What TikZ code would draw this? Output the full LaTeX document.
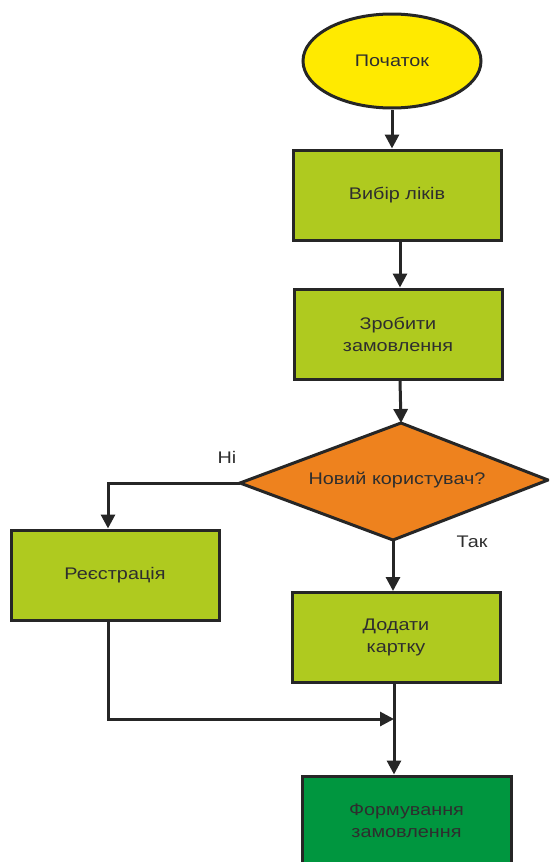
\documentclass[tikz,border=0pt]{standalone}
\usepackage{fontspec}
\setmainfont[FakeStretch=1.18]{Liberation Sans}
\usetikzlibrary{arrows.meta,shapes.geometric}

\definecolor{startyellow}{HTML}{FFEA00}
\definecolor{stepgreen}{HTML}{AFCA1F}
\definecolor{askorange}{HTML}{EE821E}
\definecolor{endgreen}{HTML}{00963F}
\definecolor{inkline}{HTML}{262626}
\definecolor{inktext}{HTML}{2E2E2E}

\tikzset{
  base/.style={draw=inkline, line width=3pt, text=inktext, align=center,
    font=\fontsize{16.8}{22}\selectfont, inner sep=0pt},
  startnode/.style={base, ellipse, fill=startyellow,
    minimum width=178pt, minimum height=94pt},
  stepbox/.style={base, rectangle, fill=stepgreen,
    minimum width=208pt, minimum height=90pt},
  endbox/.style={base, rectangle, fill=endgreen,
    minimum width=209pt, minimum height=90pt},
  decision/.style={draw=inkline, line width=3pt, fill=askorange, line join=miter},
  flow/.style={draw=inkline, line width=3pt, -{Triangle[length=14pt,width=14pt]}},
  plainflow/.style={draw=inkline, line width=3pt},
  lbl/.style={text=inktext, font=\fontsize{16.8}{20}\selectfont, inner sep=0pt}
}

\begin{document}
\begin{tikzpicture}[x=1pt, y=-1pt]
  \useasboundingbox (0,0) rectangle (549,862);
  \clip (0,0) rectangle (549,862);

  % process blocks
  \node[startnode] (start) at (392,61) {Початок};
  \node[stepbox] (pick) at (397,195) {Вибір ліків};
  \node[stepbox] (order) at (398,334) {Зробити\\замовлення};
  \node[stepbox] (reg) at (115,575) {Реєстрація};
  \node[stepbox] (card) at (396,637.5) {Додати\\картку};
  \node[endbox] (form) at (406.5,821) {Формування\\замовлення};

  % decision rhombus
  \coordinate (dl) at (240,483);
  \coordinate (dt) at (401,423);
  \coordinate (dr) at (548,480);
  \coordinate (db) at (393,540);
  \draw[decision] (dl) -- (dt) -- (dr) -- (db) -- cycle;
  \node[lbl] (ask) at (397,480) {Новий користувач?};

  % branch labels
  \node[lbl] (no) at (227,457) {Ні};
  \node[lbl] (yes) at (472,542) {Так};

  % merge point
  \coordinate (merge) at (394,719);

  % connectors
  \draw[flow] (start.south) -- (start.south |- pick.north);
  \draw[flow] ([xshift=3pt]pick.south) -- ([xshift=3pt]pick.south |- order.north);
  \draw[flow] ([xshift=2pt]order.south) -- (dt);
  \draw[flow] (dl) -| ([xshift=-7pt]reg.north);
  \draw[flow] (db) -- (db |- card.north);
  \draw[flow] ([xshift=-7pt]reg.south) |- (merge);
  \draw[plainflow] ([xshift=-2pt]card.south) -- (merge);
  \draw[flow] (merge) -- (merge |- form.north);
\end{tikzpicture}
\end{document}
